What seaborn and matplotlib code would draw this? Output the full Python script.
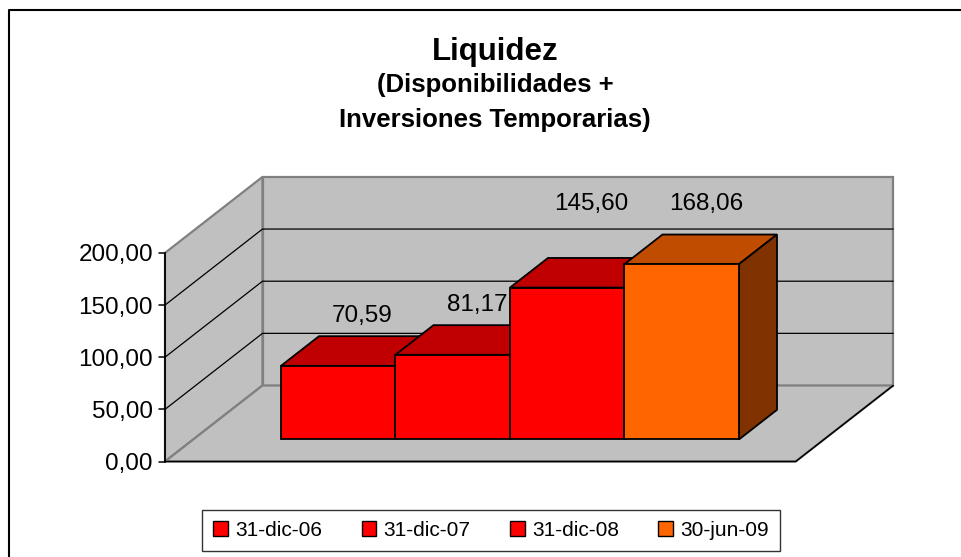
"""
Liquidez (Disponibilidades + Inversiones Temporarias) - barras 3D estilo Excel.
"""

import matplotlib
matplotlib.use('Agg')
import numpy as np
import pandas as pd
import matplotlib.pyplot as plt
import matplotlib.transforms as mtransforms
from matplotlib.patches import Polygon, Rectangle
import seaborn as sns

# ---- Datos ----
fechas = ['31-dic-06', '31-dic-07', '31-dic-08', '30-jun-09']
liquidez = [70.59, 81.17, 145.60, 168.06]
ticks_y = [0, 50, 100, 150, 200]

# colores por fecha (frente / tapa / lado)
c_frente = ['#FF0000', '#FF0000', '#FF0000', '#FF6600']
c_tapa = ['#C00000', '#C00000', '#C00000', '#C04C00']
c_lado = ['#800000', '#800000', '#800000', '#803300']

# ---- Geometria (pixeles) ----
W, H = 961, 557
PX_CAT = 114.5      # px por categoria
PX_VAL = 1.043      # px por unidad
X0_PX = 252.7       # px de x=-0.5 en el plano frontal
Y0_PX = 461.5       # px de y=0 en el plano frontal
DEP_PX = (97.5, 76.0)
BAR_D0, BAR_D1 = 0.29, 0.68   # profundidad de las barras
YMAX = 200


def px2x(px):
    return -0.5 + (px - X0_PX) / PX_CAT


def py2y(py):
    return (Y0_PX - py) / PX_VAL


DX = DEP_PX[0] / PX_CAT
DY = DEP_PX[1] / PX_VAL
WL, WR = px2x(165), px2x(795.7)


def proj(x, y, d):
    return (x + d * DX, y + d * DY)


sns.set_theme(style='white')
plt.rcParams['font.family'] = ['Liberation Sans', 'DejaVu Sans']
plt.rcParams['text.color'] = 'black'

fig = plt.figure(figsize=(W / 100, H / 100), dpi=100)
ax = fig.add_axes([0, 0, 1, 1])

df = pd.DataFrame({'fecha': fechas, 'valor': liquidez})
sns.barplot(data=df, x='fecha', y='valor', hue='fecha', palette=c_frente,
            dodge=False, width=1.0, edgecolor='black', linewidth=1.3,
            saturation=1, ax=ax, legend=True)
barras = sorted([p for p in ax.patches
                 if isinstance(p, Rectangle) and p.get_height() > 0],
                key=lambda r: r.get_x())
handles, labels = ax.get_legend_handles_labels()
ax.get_legend().remove()

ax.set_xlim(px2x(0), px2x(W))
ax.set_ylim(py2y(H), py2y(0))
ax.axis('off')

# ---- Paredes y piso ----
gris, borde = '#C0C0C0', '#808080'
pared_izq = [proj(WL, 0, 0), proj(WL, YMAX, 0), proj(WL, YMAX, 1), proj(WL, 0, 1)]
pared_fondo = [proj(WL, 0, 1), proj(WL, YMAX, 1), proj(WR, YMAX, 1), proj(WR, 0, 1)]
piso = [proj(WL, 0, 0), proj(WR, 0, 0), proj(WR, 0, 1), proj(WL, 0, 1)]
for pts in (pared_izq, pared_fondo, piso):
    ax.add_patch(Polygon(pts, closed=True, facecolor=gris, edgecolor=borde,
                         lw=1.6, zorder=0.5))

# lineas de division
for t in ticks_y[1:-1]:
    a, b, c = proj(WL, t, 0), proj(WL, t, 1), proj(WR, t, 1)
    ax.plot([a[0], b[0], c[0]], [a[1], b[1], c[1]], color='black', lw=0.9, zorder=1)

# eje de categorias (borde frontal y lateral del piso)
p = [proj(WL, 0, 0), proj(WR, 0, 0), proj(WR, 0, 1)]
ax.plot([q[0] for q in p], [q[1] for q in p], color='black', lw=1.1, zorder=1.2)

# eje de valores
a, b = proj(WL, 0, 0), proj(WL, YMAX, 0)
ax.plot([a[0], b[0]], [a[1], b[1]], color='black', lw=1.3, zorder=1.2)
tick_len = 6 / PX_CAT
for t in ticks_y:
    x, y = proj(WL, t, 0)
    ax.plot([x - tick_len, x], [y, y], color='black', lw=1.1, zorder=1.2)
    ax.text(x - 12 / PX_CAT, y, f'{t:,.2f}'.replace('.', ','), ha='right',
            va='center_baseline', fontsize=17.5, color='black')

# ---- Barras 3D: frente de seaborn desplazado + tapa y lado ----
off = mtransforms.offset_copy(ax.transData, fig=fig,
                              x=BAR_D0 * DEP_PX[0], y=BAR_D0 * DEP_PX[1],
                              units='dots')
for i, r in enumerate(barras):
    x0, x1, v = r.get_x(), r.get_x() + r.get_width(), r.get_height()
    r.set_transform(off)
    r.set_zorder(4 + 2 * i)
    tapa = [proj(x0, v, BAR_D0), proj(x1, v, BAR_D0), proj(x1, v, BAR_D1), proj(x0, v, BAR_D1)]
    lado = [proj(x1, 0, BAR_D0), proj(x1, v, BAR_D0), proj(x1, v, BAR_D1), proj(x1, 0, BAR_D1)]
    ax.add_patch(Polygon(tapa, closed=True, facecolor=c_tapa[i], edgecolor='black',
                         lw=1.3, zorder=3 + 2 * i))
    ax.add_patch(Polygon(lado, closed=True, facecolor=c_lado[i], edgecolor='black',
                         lw=1.3, zorder=3 + 2 * i))
    # etiqueta: sobre la barra, las altas quedan fijas arriba (como Excel)
    y_lab = v + 22 if v + 22 < 150 else YMAX
    xl, yl = proj(x0 + 0.5, y_lab, BAR_D1)
    ax.annotate(f'{v:.2f}'.replace('.', ','), xy=(xl, yl), xytext=(-14, 0),
                textcoords='offset pixels', ha='center', va='center_baseline',
                fontsize=17.5, color='black', zorder=20)

# ---- Titulo ----
cx = 495 / W
fig.text(cx, 1 - 60 / H, 'Liquidez', ha='center', va='baseline',
         fontsize=22.5, fontweight='bold')
fig.text(cx, 1 - 92 / H, '(Disponibilidades +', ha='center', va='baseline',
         fontsize=18.5, fontweight='bold')
fig.text(cx, 1 - 127 / H, 'Inversiones Temporarias)', ha='center', va='baseline',
         fontsize=18.5, fontweight='bold')

# ---- Leyenda ----
for h in handles:
    h.set_edgecolor('black')
    h.set_linewidth(1.0)
leg = fig.legend(handles, labels, loc='center', bbox_to_anchor=(491 / W, 1 - 530.5 / H),
                 ncol=4, fontsize=15, frameon=True, fancybox=False, edgecolor='black',
                 handlelength=0.7, handleheight=0.7, handletextpad=0.35,
                 columnspacing=1.9, borderpad=0.55)
leg.get_frame().set_linewidth(1.0)

# marco exterior
fig.add_artist(plt.Line2D([9 / W, 9 / W, 1], [0, 1 - 10 / H, 1 - 10 / H],
                          transform=fig.transFigure, color='black', lw=1.5))

fig.savefig('out.png', dpi=100)
